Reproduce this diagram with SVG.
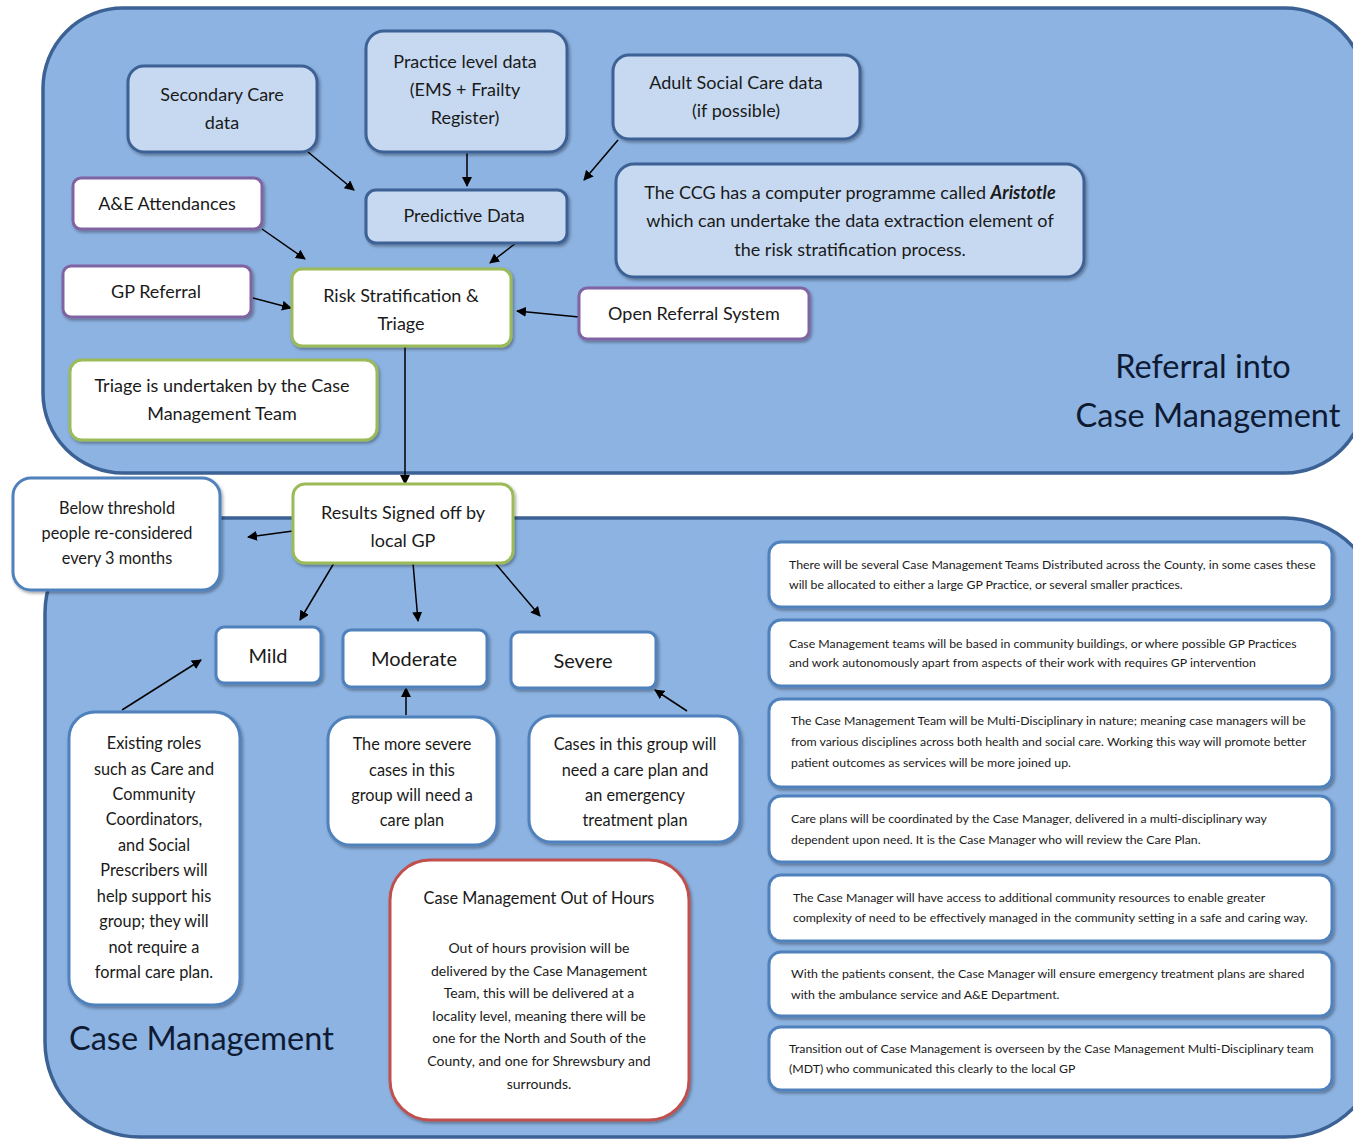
<svg xmlns="http://www.w3.org/2000/svg" width="1353" height="1139" viewBox="0 0 1353 1139">
  <defs>
    <marker id="arrow" viewBox="0 0 10 10" refX="9" refY="5" markerWidth="10" markerHeight="10" markerUnits="userSpaceOnUse" orient="auto">
      <path d="M0,0 L10,5 L0,10 z" fill="#000"/>
    </marker>
    <filter id="shadow" x="-10%" y="-10%" width="130%" height="140%">
      <feDropShadow dx="1.5" dy="2" stdDeviation="1.5" flood-color="#000" flood-opacity="0.35"/>
    </filter>
    <style>
      .zone { fill: #8db3e2; stroke: #3c6195; stroke-width: 3.5; }
      .data { fill: #c6d9f1; stroke: #3c6195; stroke-width: 3; filter: url(#shadow); }
      .src { fill: #fff; stroke: #8064a2; stroke-width: 3; filter: url(#shadow); }
      .step { fill: #fff; stroke: #9bbb59; stroke-width: 3; filter: url(#shadow); }
      .info { fill: #fff; stroke: #4f81bd; stroke-width: 3; filter: url(#shadow); }
      .ooh { fill: #fff; stroke: #c0504d; stroke-width: 3; filter: url(#shadow); }
      text { font-family: Lato, "Liberation Sans", sans-serif; fill: #1a1a1a; }
      .c { text-anchor: middle; }
      .t17 { font-size: 18px; }
      .t16 { font-size: 16.3px; }
      .t20 { font-size: 20px; }
      .t13 { font-size: 14px; }
      .t11 { font-size: 12.3px; }
      .title { font-size: 32.5px; fill: #0f1b33; }
      .conn line { stroke: #000; stroke-width: 1.5; marker-end: url(#arrow); }
    </style>
  </defs>

  <!-- swim areas -->
  <g id="zone-referral">
    <rect class="zone" x="43" y="8" width="1322" height="465" rx="80"/>
    <text class="title c" x="1203" y="378">Referral into</text>
    <text class="title c" x="1208" y="427">Case Management</text>
  </g>
  <g id="zone-case">
    <rect class="zone" x="45" y="518" width="1335" height="619" rx="95"/>
    <text class="title" x="69" y="1050">Case Management</text>
  </g>

  <!-- connectors -->
  <g id="connectors" class="conn">
    <line x1="308" y1="152" x2="354" y2="190"/>
    <line x1="467" y1="152" x2="467" y2="186"/>
    <line x1="618" y1="140" x2="584" y2="180"/>
    <line x1="516" y1="243" x2="490" y2="263"/>
    <line x1="262" y1="229" x2="305" y2="259"/>
    <line x1="253" y1="298" x2="291" y2="308"/>
    <line x1="579" y1="317" x2="517" y2="311"/>
    <line x1="405" y1="346" x2="405" y2="484"/>
    <line x1="293" y1="531" x2="248" y2="537"/>
    <line x1="334" y1="563" x2="300" y2="620"/>
    <line x1="413" y1="563" x2="418" y2="621"/>
    <line x1="495" y1="563" x2="540" y2="616"/>
    <line x1="122" y1="710" x2="201" y2="660"/>
    <line x1="406" y1="715" x2="406" y2="688"/>
    <line x1="687" y1="711" x2="655" y2="690"/>
  </g>

  <!-- data sources -->
  <g id="secondary-care">
    <rect class="data" x="128" y="66" width="189" height="86" rx="16"/>
    <text class="t17 c" x="222" y="101">Secondary Care</text>
    <text class="t17 c" x="222" y="129">data</text>
  </g>
  <g id="practice-data">
    <rect class="data" x="366" y="31" width="201" height="121" rx="18"/>
    <text class="t17 c" x="465" y="68">Practice level data</text>
    <text class="t17 c" x="465" y="96">(EMS + Frailty</text>
    <text class="t17 c" x="465" y="124">Register)</text>
  </g>
  <g id="adult-social-care">
    <rect class="data" x="613" y="55" width="247" height="84" rx="16"/>
    <text class="t17 c" x="736" y="89">Adult Social Care data</text>
    <text class="t17 c" x="736" y="117">(if possible)</text>
  </g>
  <g id="predictive-data">
    <rect class="data" x="366" y="190" width="201" height="53" rx="10"/>
    <text class="t17 c" x="464" y="222">Predictive Data</text>
  </g>
  <g id="aristotle-note">
    <rect class="data" x="616" y="164" width="468" height="113" rx="18"/>
    <text class="t17 c" x="850" y="199">The CCG has a computer programme called <tspan font-weight="bold" font-style="italic">Aristotle</tspan></text>
    <text class="t17 c" x="850" y="227">which can undertake the data extraction element of</text>
    <text class="t17 c" x="850" y="256">the risk stratification process.</text>
  </g>

  <!-- referral routes -->
  <g id="ae-attendances">
    <rect class="src" x="73" y="178" width="189" height="51" rx="8"/>
    <text class="t17 c" x="167" y="210">A&amp;E Attendances</text>
  </g>
  <g id="gp-referral">
    <rect class="src" x="63" y="266" width="188" height="51" rx="8"/>
    <text class="t17 c" x="156" y="298">GP Referral</text>
  </g>
  <g id="open-referral">
    <rect class="src" x="579" y="288" width="230" height="51" rx="8"/>
    <text class="t17 c" x="694" y="320">Open Referral System</text>
  </g>
  <g id="risk-stratification">
    <rect class="step" x="292" y="269" width="219" height="77" rx="10"/>
    <text class="t17 c" x="401" y="302">Risk Stratification &amp;</text>
    <text class="t17 c" x="401" y="330">Triage</text>
  </g>
  <g id="triage-note">
    <rect class="step" x="70" y="360" width="307" height="80" rx="12"/>
    <text class="t17 c" x="222" y="392">Triage is undertaken by the Case</text>
    <text class="t17 c" x="222" y="420">Management Team</text>
  </g>

  <!-- sign off and outcomes -->
  <g id="gp-sign-off">
    <rect class="step" x="293" y="484" width="220" height="79" rx="12"/>
    <text class="t17 c" x="403" y="519">Results Signed off by</text>
    <text class="t17 c" x="403" y="547">local GP</text>
  </g>
  <g id="below-threshold">
    <rect class="info" x="13" y="478" width="207" height="112" rx="18"/>
    <text class="t16 c" x="117" y="514">Below threshold</text>
    <text class="t16 c" x="117" y="539">people re-considered</text>
    <text class="t16 c" x="117" y="564">every 3 months</text>
  </g>
  <g id="mild">
    <rect class="info" x="216" y="627" width="105" height="56" rx="8"/>
    <text class="t20 c" x="268" y="663">Mild</text>
  </g>
  <g id="moderate">
    <rect class="info" x="343" y="630" width="144" height="57" rx="8"/>
    <text class="t20 c" x="414" y="666">Moderate</text>
  </g>
  <g id="severe">
    <rect class="info" x="511" y="632" width="145" height="56" rx="8"/>
    <text class="t20 c" x="583" y="668">Severe</text>
  </g>
  <g id="mild-note">
    <rect class="info" x="69" y="712" width="171" height="293" rx="26"/>
    <text class="t16 c" x="154" y="749">Existing roles</text>
    <text class="t16 c" x="154" y="775">such as Care and</text>
    <text class="t16 c" x="154" y="800">Community</text>
    <text class="t16 c" x="154" y="825">Coordinators,</text>
    <text class="t16 c" x="154" y="851">and Social</text>
    <text class="t16 c" x="154" y="876">Prescribers will</text>
    <text class="t16 c" x="154" y="902">help support his</text>
    <text class="t16 c" x="154" y="927">group; they will</text>
    <text class="t16 c" x="154" y="953">not require a</text>
    <text class="t16 c" x="154" y="978">formal care plan.</text>
  </g>
  <g id="moderate-note">
    <rect class="info" x="328" y="717" width="169" height="128" rx="22"/>
    <text class="t16 c" x="412" y="750">The more severe</text>
    <text class="t16 c" x="412" y="776">cases in this</text>
    <text class="t16 c" x="412" y="801">group will need a</text>
    <text class="t16 c" x="412" y="826">care plan</text>
  </g>
  <g id="severe-note">
    <rect class="info" x="529" y="716" width="211" height="126" rx="22"/>
    <text class="t16 c" x="635" y="750">Cases in this group will</text>
    <text class="t16 c" x="635" y="776">need a care plan and</text>
    <text class="t16 c" x="635" y="801">an emergency</text>
    <text class="t16 c" x="635" y="826">treatment plan</text>
  </g>
  <g id="out-of-hours">
    <rect class="ooh" x="390" y="860" width="299" height="260" rx="40"/>
    <text class="t16 c" x="539" y="904">Case Management Out of Hours</text>
    <text class="t13 c" x="539" y="953">Out of hours provision will be</text>
    <text class="t13 c" x="539" y="976">delivered by the Case Management</text>
    <text class="t13 c" x="539" y="998">Team, this will be delivered at a</text>
    <text class="t13 c" x="539" y="1021">locality level, meaning there will be</text>
    <text class="t13 c" x="539" y="1043">one for the North and South of the</text>
    <text class="t13 c" x="539" y="1066">County, and one for Shrewsbury and</text>
    <text class="t13 c" x="539" y="1089">surrounds.</text>
  </g>

  <!-- service principles -->
  <g id="principle-1">
    <rect class="info" x="769" y="542" width="563" height="65" rx="12"/>
    <text class="t11" x="789" y="569">There will be several Case Management Teams Distributed across the County, in some cases these</text>
    <text class="t11" x="789" y="589">will be allocated to either a large GP Practice, or several smaller practices.</text>
  </g>
  <g id="principle-2">
    <rect class="info" x="769" y="620" width="563" height="66" rx="12"/>
    <text class="t11" x="789" y="648">Case Management teams will be based in community buildings, or where possible GP Practices</text>
    <text class="t11" x="789" y="667">and work autonomously apart from aspects of their work with requires GP intervention</text>
  </g>
  <g id="principle-3">
    <rect class="info" x="769" y="699" width="563" height="88" rx="12"/>
    <text class="t11" x="791" y="725">The Case Management Team will be Multi-Disciplinary in nature; meaning case managers will be</text>
    <text class="t11" x="791" y="746">from various disciplines across both health and social care. Working this way will promote better</text>
    <text class="t11" x="791" y="767">patient outcomes as services will be more joined up.</text>
  </g>
  <g id="principle-4">
    <rect class="info" x="769" y="796" width="563" height="66" rx="12"/>
    <text class="t11" x="791" y="823">Care plans will be coordinated by the Case Manager, delivered in a multi-disciplinary way</text>
    <text class="t11" x="791" y="844">dependent upon need. It is the Case Manager who will review the Care Plan.</text>
  </g>
  <g id="principle-5">
    <rect class="info" x="769" y="875" width="563" height="66" rx="12"/>
    <text class="t11" x="793" y="902">The Case Manager will have access to additional community resources to enable greater</text>
    <text class="t11" x="793" y="922">complexity of need to be effectively managed in the community setting in a safe and caring way.</text>
  </g>
  <g id="principle-6">
    <rect class="info" x="769" y="952" width="563" height="64" rx="12"/>
    <text class="t11" x="791" y="978">With the patients consent, the Case Manager will ensure emergency treatment plans are shared</text>
    <text class="t11" x="791" y="999">with the ambulance service and A&amp;E Department.</text>
  </g>
  <g id="principle-7">
    <rect class="info" x="769" y="1027" width="563" height="63" rx="12"/>
    <text class="t11" x="789" y="1053">Transition out of Case Management is overseen by the Case Management Multi-Disciplinary team</text>
    <text class="t11" x="789" y="1073">(MDT) who communicated this clearly to the local GP</text>
  </g>
</svg>
